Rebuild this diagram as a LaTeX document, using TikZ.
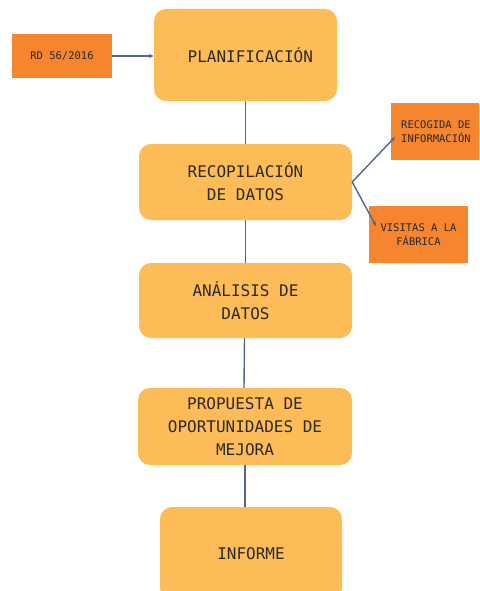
\documentclass[tikz,border=0pt]{standalone}
\usepackage{fontspec}
\newfontfamily\monofont{DejaVu Sans Mono}
\usetikzlibrary{arrows.meta}
\definecolor{paso}{HTML}{FEBC59}
\definecolor{fuente}{HTML}{F5852F}
\definecolor{enlace}{HTML}{50688C}
\definecolor{texto}{HTML}{2A2A2A}
\tikzset{
  pasobox/.style={fill=paso, rounded corners=12pt, inner sep=0pt, align=center,
    text=texto, font=\monofont\fontsize{16}{23}\selectfont},
  fuentebox/.style={fill=fuente, inner sep=0pt, align=center,
    text=texto, font=\monofont\fontsize{10.5}{14}\selectfont},
  enlace/.style={draw=enlace, line width=1.4pt},
  flecha/.style={enlace, -{Stealth[length=5pt,width=4pt]}}
}
\begin{document}
\begin{tikzpicture}[x=1pt,y=-1pt]
        \clip (0,0) rectangle (479,591);
        \fill[white] (0,0) rectangle (479,591);
        % pasos
        \node[pasobox, minimum width=183pt, minimum height=92pt] (planif) at (245.5,55) {~PLANIFICACIÓN};
        \node[pasobox, minimum width=213pt, minimum height=76pt] (recop) at (245.5,182) {RECOPILACIÓN\\DE DATOS};
        \node[pasobox, minimum width=213pt, minimum height=75pt] (anal) at (245.5,300.5) {ANÁLISIS DE\\DATOS};
        \node[pasobox, minimum width=214pt, minimum height=77pt] (prop) at (245,426.5) {PROPUESTA DE\\OPORTUNIDADES DE\\MEJORA};
        \node[pasobox, minimum width=182pt, minimum height=93pt] (inf) at (251,553.5) {INFORME};
        % fuentes
        \node[fuentebox, minimum width=100pt, minimum height=44pt] (rd) at (62,56) {RD 56/2016};
        \node[fuentebox, minimum width=90pt, minimum height=57pt] (recog) at (436,131.5) {RECOGIDA DE\\INFORMACIÓN};
        \node[fuentebox, minimum width=99pt, minimum height=57pt] (visit) at (418.5,234.5) {VISITAS A LA\\FÁBRICA};
        \coordinate (recogTip) at (395,137);
        \coordinate (visitTip) at (376,226);
        % enlaces
        \draw[enlace] (planif.south) -- (recop.north);
        \draw[enlace] (recop.south) -- (anal.north);
        \draw[enlace] (anal.south) ++(-1,0) -- ([xshift=-1pt]prop.north);
        \draw[enlace] (prop.south) -- (prop.south |- inf.north);
        \draw[flecha] (rd.east) -- (rd.east -| planif.west);
        \draw[flecha] (recop.east) -- (recogTip);
        \draw[flecha] (recop.east) -- (visitTip);
    \end{tikzpicture}
\end{document}
